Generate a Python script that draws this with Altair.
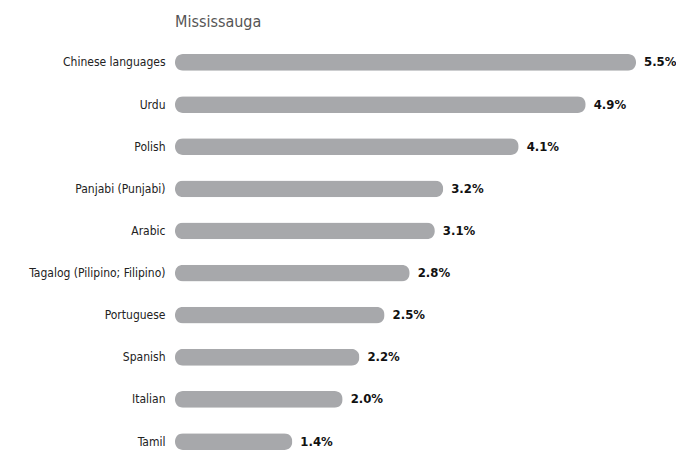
import altair as alt
import pandas as pd

languages = ["Chinese languages", "Urdu", "Polish", "Panjabi (Punjabi)", "Arabic",
             "Tagalog (Pilipino; Filipino)", "Portuguese", "Spanish", "Italian", "Tamil"]
values = [5.5, 4.9, 4.1, 3.2, 3.1, 2.8, 2.5, 2.2, 2.0, 1.4]
labels = [f"{v:.1f}%" for v in values]

df = pd.DataFrame({"lang": languages, "value": values, "label": labels})

FONT = "DejaVu Sans Condensed, Roboto, sans-serif"

y = alt.Y("lang:N", sort=languages, title=None,
          scale=alt.Scale(paddingInner=0.6, paddingOuter=0),
          axis=alt.Axis(domain=False, ticks=False, labelPadding=10, labelFontSize=12,
                        labelColor="#222222", labelFont=FONT, labelLimit=300))
x = alt.X("value:Q", scale=alt.Scale(domain=[0, 5.5], nice=False, zero=True), axis=None)

bars = alt.Chart(df).mark_bar(color="#a7a8ab", cornerRadius=8).encode(x=x, y=y)
text = alt.Chart(df).mark_text(align="left", dx=8, fontSize=13, fontWeight="bold",
                               font=FONT, color="#111111").encode(x=x, y=y, text="label:N")

chart = (bars + text).properties(
    width=461, height=396,
    title=alt.TitleParams("Mississauga", anchor="start", frame="group", fontSize=16,
                          fontWeight="normal", font=FONT, color="#555555", offset=24),
    autosize=alt.AutoSizeParams(type="none"),
    padding={"left": 167, "top": 46, "right": 40, "bottom": 0},
).configure_view(stroke=None)

chart.save("out.html", embed_options={"renderer": "svg", "actions": False})
